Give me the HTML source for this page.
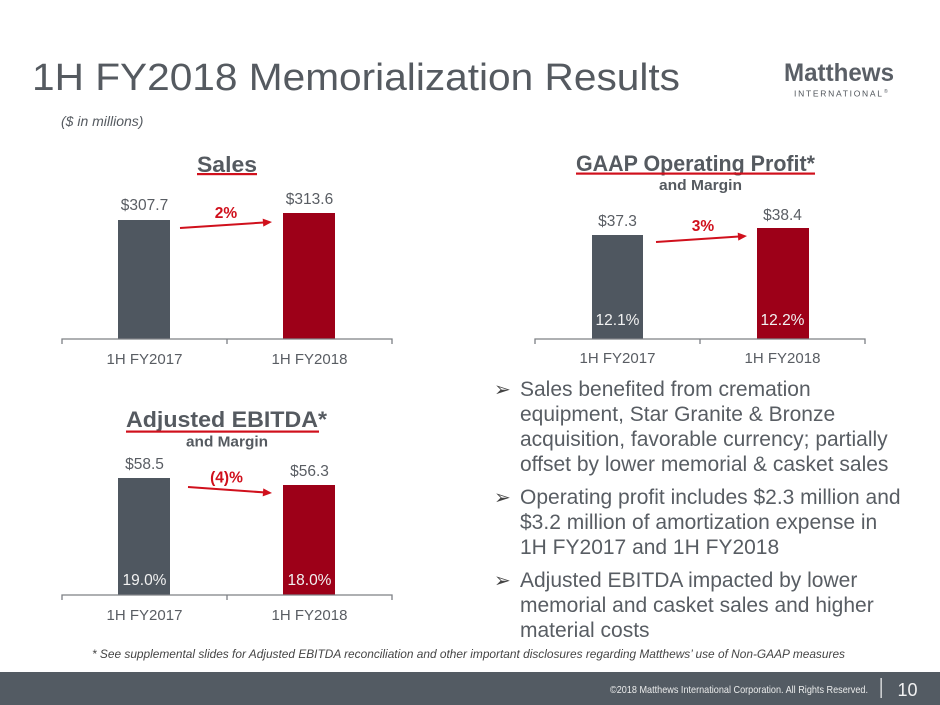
<!DOCTYPE html>
<html><head><meta charset="utf-8"><style>
html,body{margin:0;padding:0;background:#fff;}
svg{display:block;}
text{font-family:"Liberation Sans",Arial,sans-serif;}
</style></head><body>
<svg width="940" height="705" viewBox="0 0 940 705" xmlns="http://www.w3.org/2000/svg">
<rect width="940" height="705" fill="#fff"/>
<!-- Title -->
<text x="32" y="90" font-size="38" fill="#555a60" textLength="648" lengthAdjust="spacingAndGlyphs">1H FY2018 Memorialization Results</text>
<text x="61" y="126" font-size="14" font-style="italic" fill="#555a60">($ in millions)</text>
<!-- Logo -->
<text x="784" y="81" font-size="25" font-weight="bold" fill="#5a5f66" textLength="110" lengthAdjust="spacingAndGlyphs">Matthews</text>
<text x="794" y="96.5" font-size="8.5" fill="#4f545a" textLength="88" lengthAdjust="spacing">INTERNATIONAL</text>
<text x="884" y="93" font-size="5" fill="#5a5f66">®</text>

<!-- Sales chart -->
<text x="227" y="172" font-size="22" font-weight="bold" fill="#555a60" text-anchor="middle" textLength="60" lengthAdjust="spacingAndGlyphs">Sales</text>
<rect x="197" y="173" width="60" height="2.2" fill="#d0101c"/>
<rect x="118" y="220" width="52" height="119" fill="#4f5760"/>
<rect x="283" y="213" width="52" height="126" fill="#9d0018"/>
<text x="144.5" y="210" font-size="15.5" fill="#595d63" text-anchor="middle">$307.7</text>
<text x="309.5" y="204" font-size="15.5" fill="#595d63" text-anchor="middle">$313.6</text>
<text x="226" y="218" font-size="15.5" font-weight="bold" fill="#d0101c" text-anchor="middle">2%</text>
<line x1="180" y1="228" x2="264" y2="222.5" stroke="#d0101c" stroke-width="2"/>
<polygon points="272,222 263.3,226.6 262.7,218.6" fill="#d0101c"/>
<path d="M62 344 V339 H392 V344 M227 339 V344" stroke="#7d8085" stroke-width="1.3" fill="none"/>
<text x="144.5" y="364" font-size="15" fill="#595d63" text-anchor="middle">1H FY2017</text>
<text x="309.5" y="364" font-size="15" fill="#595d63" text-anchor="middle">1H FY2018</text>

<!-- GAAP chart -->
<text x="576" y="171" font-size="22" font-weight="bold" fill="#555a60" textLength="239" lengthAdjust="spacingAndGlyphs">GAAP Operating Profit*</text>
<rect x="576" y="172.5" width="239" height="2.2" fill="#d0101c"/>
<text x="700.5" y="190" font-size="14.5" font-weight="bold" fill="#555a60" text-anchor="middle" textLength="83" lengthAdjust="spacingAndGlyphs">and Margin</text>
<rect x="592" y="235" width="51" height="104" fill="#4f5760"/>
<rect x="757" y="228" width="52" height="111" fill="#9d0018"/>
<text x="617.5" y="226" font-size="15.5" fill="#595d63" text-anchor="middle">$37.3</text>
<text x="782.5" y="220" font-size="15.5" fill="#595d63" text-anchor="middle">$38.4</text>
<text x="703" y="231" font-size="15.5" font-weight="bold" fill="#d0101c" text-anchor="middle">3%</text>
<line x1="656" y1="242" x2="739" y2="236.5" stroke="#d0101c" stroke-width="2"/>
<polygon points="747,236 738.3,240.6 737.7,232.6" fill="#d0101c"/>
<text x="617.5" y="325" font-size="15.5" fill="#f2f2f2" text-anchor="middle">12.1%</text>
<text x="782.5" y="325" font-size="15.5" fill="#f2f2f2" text-anchor="middle">12.2%</text>
<path d="M535 344 V339 H865 V344 M700 339 V344" stroke="#7d8085" stroke-width="1.3" fill="none"/>
<text x="617.5" y="363" font-size="15" fill="#595d63" text-anchor="middle">1H FY2017</text>
<text x="782.5" y="363" font-size="15" fill="#595d63" text-anchor="middle">1H FY2018</text>

<!-- EBITDA chart -->
<text x="126" y="427" font-size="22" font-weight="bold" fill="#555a60" textLength="201" lengthAdjust="spacingAndGlyphs">Adjusted EBITDA*</text>
<rect x="126" y="430.5" width="193" height="2.2" fill="#d0101c"/>
<text x="227" y="446.5" font-size="14.5" font-weight="bold" fill="#555a60" text-anchor="middle" textLength="82" lengthAdjust="spacingAndGlyphs">and Margin</text>
<rect x="118" y="478" width="52" height="117" fill="#4f5760"/>
<rect x="283" y="485" width="52" height="110" fill="#9d0018"/>
<text x="144.5" y="469" font-size="15.5" fill="#595d63" text-anchor="middle">$58.5</text>
<text x="309.5" y="476" font-size="15.5" fill="#595d63" text-anchor="middle">$56.3</text>
<text x="226.5" y="482.5" font-size="15.5" font-weight="bold" fill="#d0101c" text-anchor="middle">(4)%</text>
<line x1="188" y1="487" x2="264" y2="492.4" stroke="#d0101c" stroke-width="2"/>
<polygon points="272,493 262.7,496.4 263.3,488.4" fill="#d0101c"/>
<text x="144.5" y="585" font-size="15.5" fill="#f2f2f2" text-anchor="middle">19.0%</text>
<text x="309.5" y="585" font-size="15.5" fill="#f2f2f2" text-anchor="middle">18.0%</text>
<path d="M62 600 V595 H392 V600 M227 595 V600" stroke="#7d8085" stroke-width="1.3" fill="none"/>
<text x="144.5" y="620" font-size="15" fill="#595d63" text-anchor="middle">1H FY2017</text>
<text x="309.5" y="620" font-size="15" fill="#595d63" text-anchor="middle">1H FY2018</text>

<!-- Bullets -->
<g font-size="21" fill="#585d63">
<text x="494" y="396" font-size="20" fill="#444" font-family="DejaVu Sans, sans-serif">➢</text>
<text x="520" y="396">Sales benefited from cremation</text>
<text x="520" y="421">equipment, Star Granite &amp; Bronze</text>
<text x="520" y="446">acquisition, favorable currency; partially</text>
<text x="520" y="471">offset by lower memorial &amp; casket sales</text>
<text x="494" y="504" font-size="20" fill="#444" font-family="DejaVu Sans, sans-serif">➢</text>
<text x="520" y="504">Operating profit includes $2.3 million and</text>
<text x="520" y="529">$3.2 million of amortization expense in</text>
<text x="520" y="554">1H FY2017 and 1H FY2018</text>
<text x="494" y="587" font-size="20" fill="#444" font-family="DejaVu Sans, sans-serif">➢</text>
<text x="520" y="587">Adjusted EBITDA impacted by lower</text>
<text x="520" y="612">memorial and casket sales and higher</text>
<text x="520" y="637">material costs</text>
</g>

<!-- Footnote -->
<text x="92" y="658" font-size="11.5" font-style="italic" fill="#444" textLength="753" lengthAdjust="spacingAndGlyphs">* See supplemental slides for Adjusted EBITDA reconciliation and other important disclosures regarding Matthews’ use of Non-GAAP measures</text>

<!-- Footer -->
<rect x="0" y="672" width="940" height="33" fill="#535b63"/>
<text x="610" y="693" font-size="10.5" fill="#eceded" textLength="258" lengthAdjust="spacingAndGlyphs">©2018 Matthews International Corporation. All Rights Reserved.</text>
<rect x="880.5" y="678" width="1.3" height="20" fill="#e8e9ea"/>
<text x="907.5" y="696" font-size="18" fill="#f2f2f2" text-anchor="middle">10</text>
</svg>
</body></html>
